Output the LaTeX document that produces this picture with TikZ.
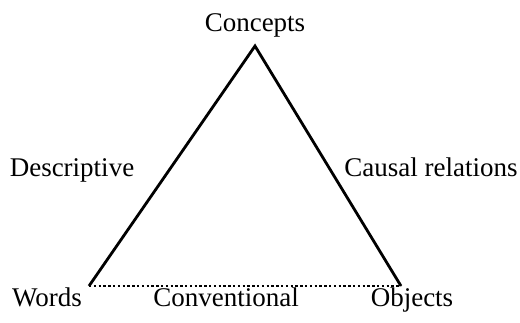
\documentclass[tikz,border=0pt]{standalone}
\usepackage{fontspec}
\setmainfont{Liberation Serif}
\begin{document}
\begin{tikzpicture}[x=1pt,y=-1pt,
  lbl/.style={anchor=base,inner sep=0pt,font=\fontsize{27}{32}\selectfont},
  side/.style={line width=2.8pt},
  dotline/.style={line width=2.8pt,dash pattern=on 2.4pt off 2.4pt}]
\useasboundingbox (0,0) rectangle (520,322);
\coordinate (top) at (255,46);
\coordinate (bl) at (89,286);
\coordinate (br) at (401,286);
\node[lbl] (concepts) at (255,31) {Concepts};
\node[lbl] (descr) at (72,176) {Descriptive};
\node[lbl] (causal) at (431,176) {Causal relations};
\node[lbl] (words) at (47,306) {Words};
\node[lbl] (conv) at (226,306) {Conventional};
\node[lbl] (objects) at (412,306) {Objects};
\draw[side,line join=miter] (bl) -- (top) -- (br);
\draw[dotline] (bl) -- (br);
\end{tikzpicture}
\end{document}
